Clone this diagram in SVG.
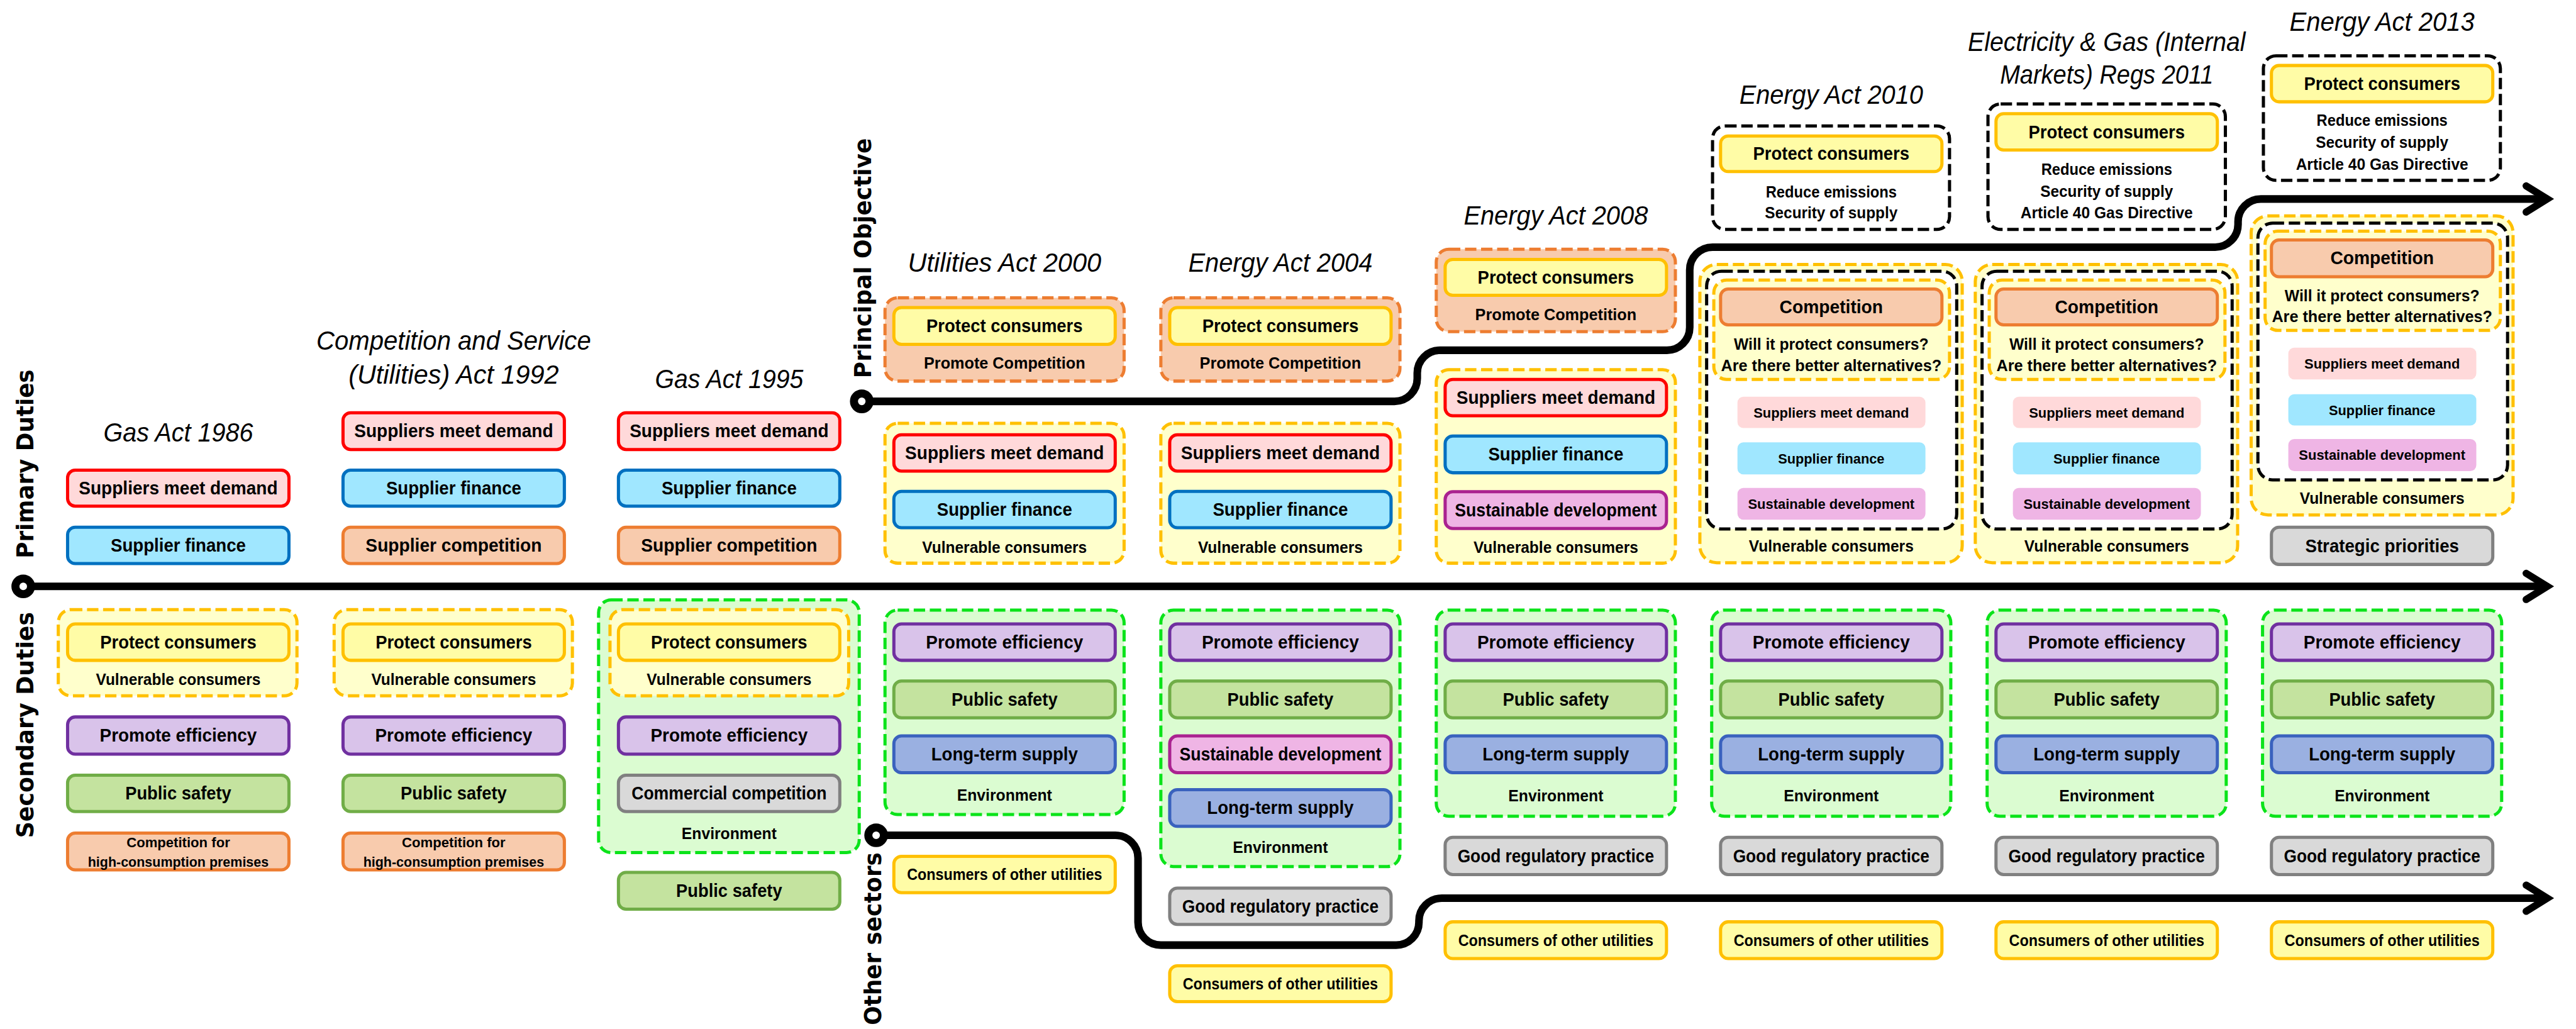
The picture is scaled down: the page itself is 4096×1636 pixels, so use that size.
<svg xmlns="http://www.w3.org/2000/svg" xmlns:xlink="http://www.w3.org/1999/xlink" width="4096" height="1636" viewBox="0 0 4096 1636">
<style>
.bx{stroke-width:7.5}
.red{fill:#FFD9DA;stroke:#FF0000}
.blu{fill:#A0E7FF;stroke:#0070C0}
.org{fill:#F8CBAD;stroke:#ED7D31}
.yel{fill:#FFFCA6;stroke:#FFC000}
.pur{fill:#D9C3EA;stroke:#7030A0}
.grn{fill:#C4E39F;stroke:#70AD47}
.gry{fill:#D9D9D9;stroke:#808080}
.lts{fill:#9AB0E1;stroke:#3A62BE}
.sus{fill:#EFB5E5;stroke:#AA2290}
.grp{stroke-width:7.5;stroke-dasharray:27 11}
.gy{fill:#FFFFCC;stroke:#FFC000}
.go{fill:#F8CBAD;stroke:#ED7D31}
.gg{fill:#DBFCD1;stroke:#0BE31A}
.gk{fill:#FFFFFF;stroke:#000000}
.lr{fill:#FFD9DA}.lb{fill:#A0E7FF}.ls{fill:#EFB5E5}
text{font-family:"Liberation Sans",Arial,sans-serif;text-anchor:middle;dominant-baseline:central;fill:#000}
.m{font-size:43.5px;font-weight:bold}
.s{font-size:38.5px;font-weight:bold}
.x{font-size:34px;font-weight:bold}
.ti{font-size:62px;font-style:italic}
.lab{font-family:"DejaVu Sans",Verdana,sans-serif;font-size:55px;font-weight:bold}
.ln{fill:none;stroke:#000;stroke-width:18}
.chev{fill:none;stroke:#000;stroke-width:17;stroke-linecap:round;stroke-linejoin:miter}
.dot{fill:#fff;stroke:#000;stroke-width:19}
</style>
<defs>
<path id="chev" class="chev" d="M-50,-31 L0,0 L-50,31"/>
</defs>
<rect width="4096" height="1636" fill="#fff"/>
<g transform="scale(0.671696)">

<g id="labels">
<text class="lab" transform="translate(60,1098) rotate(-90)" textLength="447" lengthAdjust="spacingAndGlyphs">Primary Duties</text>
<text class="lab" transform="translate(60,1716) rotate(-90)" textLength="535" lengthAdjust="spacingAndGlyphs">Secondary Duties</text>
<text class="lab" transform="translate(2043,611) rotate(-90)" textLength="568" lengthAdjust="spacingAndGlyphs">Principal Objective</text>
<text class="lab" transform="translate(2067,2222) rotate(-90)" textLength="409" lengthAdjust="spacingAndGlyphs">Other sectors</text>
</g>

<g id="connectors">
<path class="ln" d="M74,1388 H6025"/>
<path class="ln" d="M2059,950 H3301 A54,54 0 0 0 3355,896 V883 A54,54 0 0 1 3409,829 H3946 A54,54 0 0 0 4000,775 V639 A54,54 0 0 1 4054,585 H5244 A54,54 0 0 0 5298,531 V525 A54,54 0 0 1 5352,471 H6025"/>
<path class="ln" d="M2093,1977 H2640 A54,54 0 0 1 2694,2031 V2183 A54,54 0 0 0 2748,2237 H3305 A54,54 0 0 0 3359,2183 V2180 A54,54 0 0 1 3413,2126 H6025"/>
<circle class="dot" cx="55" cy="1388" r="18.5"/>
<circle class="dot" cx="2040" cy="950" r="18.5"/>
<circle class="dot" cx="2074" cy="1977" r="18.5"/>
<use xlink:href="#chev" x="6030" y="1388"/>
<use xlink:href="#chev" x="6030" y="471"/>
<use xlink:href="#chev" x="6030" y="2126"/>
</g>

<!-- Column 1: Gas Act 1986 -->
<g id="col1">
<text id="t1" class="ti" x="422" y="1024" textLength="354" lengthAdjust="spacingAndGlyphs">Gas Act 1986</text>
<g id="c1-smd"><rect class="bx red" x="160" y="1113" width="524" height="85" rx="18"/><text class="m" x="422" y="1156" textLength="471" lengthAdjust="spacingAndGlyphs">Suppliers meet demand</text></g>
<g id="c1-sf"><rect class="bx blu" x="160" y="1248" width="524" height="86" rx="18"/><text class="m" x="422" y="1291" textLength="320" lengthAdjust="spacingAndGlyphs">Supplier finance</text></g>
<g id="c1-pcg"><rect class="grp gy" x="138" y="1443" width="565" height="204" rx="30"/>
<g id="c1-pc"><rect class="bx yel" x="160" y="1477" width="524" height="86" rx="18"/><text class="m" x="422" y="1520" textLength="370" lengthAdjust="spacingAndGlyphs">Protect consumers</text></g>
<text class="s" x="422" y="1608" textLength="390" lengthAdjust="spacingAndGlyphs">Vulnerable consumers</text></g>
<g id="c1-pe"><rect class="bx pur" x="160" y="1697" width="524" height="88" rx="18"/><text class="m" x="422" y="1741" textLength="372" lengthAdjust="spacingAndGlyphs">Promote efficiency</text></g>
<g id="c1-ps"><rect class="bx grn" x="160" y="1835" width="524" height="86" rx="18"/><text class="m" x="422" y="1878" textLength="251" lengthAdjust="spacingAndGlyphs">Public safety</text></g>
<g id="c1-chc"><rect class="bx org" x="160" y="1972" width="524" height="87" rx="18"/><text class="x" x="422" y="1994" textLength="245" lengthAdjust="spacingAndGlyphs">Competition for</text><text class="x" x="422" y="2039" textLength="428" lengthAdjust="spacingAndGlyphs">high-consumption premises</text></g>
</g>

<!-- Column 2: Competition and Service (Utilities) Act 1992 -->
<g id="col2">
<text id="t2a" class="ti" x="1074" y="806" textLength="650" lengthAdjust="spacingAndGlyphs">Competition and Service</text>
<text id="t2b" class="ti" x="1074" y="886" textLength="498" lengthAdjust="spacingAndGlyphs">(Utilities) Act 1992</text>
<g id="c2-smd"><rect class="bx red" x="812" y="977" width="524" height="87" rx="18"/><text class="m" x="1074" y="1020" textLength="471" lengthAdjust="spacingAndGlyphs">Suppliers meet demand</text></g>
<g id="c2-sf"><rect class="bx blu" x="812" y="1113" width="524" height="85" rx="18"/><text class="m" x="1074" y="1156" textLength="320" lengthAdjust="spacingAndGlyphs">Supplier finance</text></g>
<g id="c2-sc"><rect class="bx org" x="812" y="1248" width="524" height="86" rx="18"/><text class="m" x="1074" y="1291" textLength="417" lengthAdjust="spacingAndGlyphs">Supplier competition</text></g>
<g id="c2-pcg"><rect class="grp gy" x="791" y="1443" width="564" height="204" rx="30"/>
<g id="c2-pc"><rect class="bx yel" x="812" y="1477" width="524" height="86" rx="18"/><text class="m" x="1074" y="1520" textLength="370" lengthAdjust="spacingAndGlyphs">Protect consumers</text></g>
<text class="s" x="1074" y="1608" textLength="390" lengthAdjust="spacingAndGlyphs">Vulnerable consumers</text></g>
<g id="c2-pe"><rect class="bx pur" x="812" y="1697" width="524" height="88" rx="18"/><text class="m" x="1074" y="1741" textLength="372" lengthAdjust="spacingAndGlyphs">Promote efficiency</text></g>
<g id="c2-ps"><rect class="bx grn" x="812" y="1835" width="524" height="86" rx="18"/><text class="m" x="1074" y="1878" textLength="251" lengthAdjust="spacingAndGlyphs">Public safety</text></g>
<g id="c2-chc"><rect class="bx org" x="812" y="1972" width="524" height="87" rx="18"/><text class="x" x="1074" y="1994" textLength="245" lengthAdjust="spacingAndGlyphs">Competition for</text><text class="x" x="1074" y="2039" textLength="428" lengthAdjust="spacingAndGlyphs">high-consumption premises</text></g>
</g>

<!-- Column 3: Gas Act 1995 -->
<g id="col3">
<text id="t3" class="ti" x="1726" y="897" textLength="351" lengthAdjust="spacingAndGlyphs">Gas Act 1995</text>
<g id="c3-smd"><rect class="bx red" x="1464" y="977" width="524" height="87" rx="18"/><text class="m" x="1726" y="1020" textLength="471" lengthAdjust="spacingAndGlyphs">Suppliers meet demand</text></g>
<g id="c3-sf"><rect class="bx blu" x="1464" y="1113" width="524" height="85" rx="18"/><text class="m" x="1726" y="1156" textLength="320" lengthAdjust="spacingAndGlyphs">Supplier finance</text></g>
<g id="c3-sc"><rect class="bx org" x="1464" y="1248" width="524" height="86" rx="18"/><text class="m" x="1726" y="1291" textLength="417" lengthAdjust="spacingAndGlyphs">Supplier competition</text></g>
<g id="c3-env"><rect class="grp gg" x="1417" y="1420" width="617" height="598" rx="30"/>
<g id="c3-pcg"><rect class="grp gy" x="1444" y="1443" width="565" height="204" rx="30"/>
<g id="c3-pc"><rect class="bx yel" x="1464" y="1477" width="524" height="86" rx="18"/><text class="m" x="1726" y="1520" textLength="370" lengthAdjust="spacingAndGlyphs">Protect consumers</text></g>
<text class="s" x="1726" y="1608" textLength="390" lengthAdjust="spacingAndGlyphs">Vulnerable consumers</text></g>
<g id="c3-pe"><rect class="bx pur" x="1464" y="1697" width="524" height="88" rx="18"/><text class="m" x="1726" y="1741" textLength="372" lengthAdjust="spacingAndGlyphs">Promote efficiency</text></g>
<g id="c3-cc"><rect class="bx gry" x="1464" y="1835" width="524" height="86" rx="18"/><text class="m" x="1726" y="1878" textLength="462" lengthAdjust="spacingAndGlyphs">Commercial competition</text></g>
<text class="s" x="1726" y="1973" textLength="225" lengthAdjust="spacingAndGlyphs">Environment</text></g>
<g id="c3-ps"><rect class="bx grn" x="1464" y="2065" width="524" height="87" rx="18"/><text class="m" x="1726" y="2108" textLength="251" lengthAdjust="spacingAndGlyphs">Public safety</text></g>
</g>

<!-- Column 4: Utilities Act 2000 -->
<g id="col4">
<text id="t4" class="ti" x="2378" y="621" textLength="458" lengthAdjust="spacingAndGlyphs">Utilities Act 2000</text>
<g id="c4-po"><rect class="grp go" x="2095" y="705" width="566" height="197" rx="30"/>
<g id="c4-pc"><rect class="bx yel" x="2116" y="728" width="524" height="87" rx="18"/><text class="m" x="2378" y="771" textLength="370" lengthAdjust="spacingAndGlyphs">Protect consumers</text></g>
<text class="s" x="2378" y="859" textLength="382" lengthAdjust="spacingAndGlyphs">Promote Competition</text></g>
<g id="c4-pd"><rect class="grp gy" x="2095" y="1002" width="566" height="331" rx="30"/>
<g id="c4-smd"><rect class="bx red" x="2116" y="1029" width="524" height="86" rx="18"/><text class="m" x="2378" y="1072" textLength="471" lengthAdjust="spacingAndGlyphs">Suppliers meet demand</text></g>
<g id="c4-sf"><rect class="bx blu" x="2116" y="1163" width="524" height="86" rx="18"/><text class="m" x="2378" y="1206" textLength="320" lengthAdjust="spacingAndGlyphs">Supplier finance</text></g>
<text class="s" x="2378" y="1295" textLength="390" lengthAdjust="spacingAndGlyphs">Vulnerable consumers</text></g>
<g id="c4-env"><rect class="grp gg" x="2095" y="1444" width="566" height="484" rx="30"/>
<g id="c4-pe"><rect class="bx pur" x="2116" y="1477" width="524" height="86" rx="18"/><text class="m" x="2378" y="1520" textLength="372" lengthAdjust="spacingAndGlyphs">Promote efficiency</text></g>
<g id="c4-ps"><rect class="bx grn" x="2116" y="1612" width="524" height="87" rx="18"/><text class="m" x="2378" y="1655" textLength="251" lengthAdjust="spacingAndGlyphs">Public safety</text></g>
<g id="c4-lt"><rect class="bx lts" x="2116" y="1742" width="524" height="87" rx="18"/><text class="m" x="2378" y="1785" textLength="347" lengthAdjust="spacingAndGlyphs">Long-term supply</text></g>
<text class="s" x="2378" y="1882" textLength="225" lengthAdjust="spacingAndGlyphs">Environment</text></g>
<g id="c4-cou"><rect class="bx yel" x="2116" y="2027" width="524" height="86" rx="18"/><text class="s" x="2378" y="2070" textLength="462" lengthAdjust="spacingAndGlyphs">Consumers of other utilities</text></g>
</g>

<!-- Column 5: Energy Act 2004 -->
<g id="col5">
<text id="t5" class="ti" x="3031" y="621" textLength="436" lengthAdjust="spacingAndGlyphs">Energy Act 2004</text>
<g id="c5-po"><rect class="grp go" x="2748" y="705" width="566" height="197" rx="30"/>
<g id="c5-pc"><rect class="bx yel" x="2769" y="728" width="524" height="87" rx="18"/><text class="m" x="3031" y="771" textLength="370" lengthAdjust="spacingAndGlyphs">Protect consumers</text></g>
<text class="s" x="3031" y="859" textLength="382" lengthAdjust="spacingAndGlyphs">Promote Competition</text></g>
<g id="c5-pd"><rect class="grp gy" x="2748" y="1002" width="566" height="331" rx="30"/>
<g id="c5-smd"><rect class="bx red" x="2769" y="1029" width="524" height="86" rx="18"/><text class="m" x="3031" y="1072" textLength="471" lengthAdjust="spacingAndGlyphs">Suppliers meet demand</text></g>
<g id="c5-sf"><rect class="bx blu" x="2769" y="1163" width="524" height="86" rx="18"/><text class="m" x="3031" y="1206" textLength="320" lengthAdjust="spacingAndGlyphs">Supplier finance</text></g>
<text class="s" x="3031" y="1295" textLength="390" lengthAdjust="spacingAndGlyphs">Vulnerable consumers</text></g>
<g id="c5-env"><rect class="grp gg" x="2748" y="1444" width="566" height="607" rx="30"/>
<g id="c5-pe"><rect class="bx pur" x="2769" y="1477" width="524" height="86" rx="18"/><text class="m" x="3031" y="1520" textLength="372" lengthAdjust="spacingAndGlyphs">Promote efficiency</text></g>
<g id="c5-ps"><rect class="bx grn" x="2769" y="1612" width="524" height="87" rx="18"/><text class="m" x="3031" y="1655" textLength="251" lengthAdjust="spacingAndGlyphs">Public safety</text></g>
<g id="c5-sd"><rect class="bx sus" x="2769" y="1742" width="524" height="87" rx="18"/><text class="m" x="3031" y="1785" textLength="478" lengthAdjust="spacingAndGlyphs">Sustainable development</text></g>
<g id="c5-lt"><rect class="bx lts" x="2769" y="1869" width="524" height="87" rx="18"/><text class="m" x="3031" y="1912" textLength="347" lengthAdjust="spacingAndGlyphs">Long-term supply</text></g>
<text class="s" x="3031" y="2005" textLength="225" lengthAdjust="spacingAndGlyphs">Environment</text></g>
<g id="c5-grp"><rect class="bx gry" x="2769" y="2102" width="524" height="86" rx="18"/><text class="m" x="3031" y="2145" textLength="465" lengthAdjust="spacingAndGlyphs">Good regulatory practice</text></g>
<g id="c5-cou"><rect class="bx yel" x="2769" y="2286" width="524" height="85" rx="18"/><text class="s" x="3031" y="2328" textLength="462" lengthAdjust="spacingAndGlyphs">Consumers of other utilities</text></g>
</g>

<!-- Column 6: Energy Act 2008 -->
<g id="col6">
<text id="t6" class="ti" x="3683" y="510" textLength="436" lengthAdjust="spacingAndGlyphs">Energy Act 2008</text>
<g id="c6-po"><rect class="grp go" x="3400" y="590" width="566" height="195" rx="30"/>
<g id="c6-pc"><rect class="bx yel" x="3421" y="614" width="524" height="85" rx="18"/><text class="m" x="3683" y="656" textLength="370" lengthAdjust="spacingAndGlyphs">Protect consumers</text></g>
<text class="s" x="3683" y="744" textLength="382" lengthAdjust="spacingAndGlyphs">Promote Competition</text></g>
<g id="c6-pd"><rect class="grp gy" x="3400" y="875" width="566" height="458" rx="30"/>
<g id="c6-smd"><rect class="bx red" x="3421" y="898" width="524" height="86" rx="18"/><text class="m" x="3683" y="941" textLength="471" lengthAdjust="spacingAndGlyphs">Suppliers meet demand</text></g>
<g id="c6-sf"><rect class="bx blu" x="3421" y="1032" width="524" height="87" rx="18"/><text class="m" x="3683" y="1075" textLength="320" lengthAdjust="spacingAndGlyphs">Supplier finance</text></g>
<g id="c6-sd"><rect class="bx sus" x="3421" y="1164" width="524" height="87" rx="18"/><text class="m" x="3683" y="1207" textLength="478" lengthAdjust="spacingAndGlyphs">Sustainable development</text></g>
<text class="s" x="3683" y="1295" textLength="390" lengthAdjust="spacingAndGlyphs">Vulnerable consumers</text></g>
<g id="c6-env"><rect class="grp gg" x="3400" y="1444" width="566" height="488" rx="30"/>
<g id="c6-pe"><rect class="bx pur" x="3421" y="1477" width="524" height="86" rx="18"/><text class="m" x="3683" y="1520" textLength="372" lengthAdjust="spacingAndGlyphs">Promote efficiency</text></g>
<g id="c6-ps"><rect class="bx grn" x="3421" y="1612" width="524" height="87" rx="18"/><text class="m" x="3683" y="1655" textLength="251" lengthAdjust="spacingAndGlyphs">Public safety</text></g>
<g id="c6-lt"><rect class="bx lts" x="3421" y="1742" width="524" height="87" rx="18"/><text class="m" x="3683" y="1785" textLength="347" lengthAdjust="spacingAndGlyphs">Long-term supply</text></g>
<text class="s" x="3683" y="1883" textLength="225" lengthAdjust="spacingAndGlyphs">Environment</text></g>
<g id="c6-grp"><rect class="bx gry" x="3421" y="1982" width="524" height="88" rx="18"/><text class="m" x="3683" y="2026" textLength="465" lengthAdjust="spacingAndGlyphs">Good regulatory practice</text></g>
<g id="c6-cou"><rect class="bx yel" x="3421" y="2182" width="524" height="87" rx="18"/><text class="s" x="3683" y="2225" textLength="462" lengthAdjust="spacingAndGlyphs">Consumers of other utilities</text></g>
</g>

<!-- Column 7: Energy Act 2010 -->
<g id="col7">
<text id="t7" class="ti" x="4335" y="224" textLength="435" lengthAdjust="spacingAndGlyphs">Energy Act 2010</text>
<g id="c7-po"><rect class="grp gk" x="4054" y="298" width="561" height="245" rx="30"/>
<g id="c7-pc"><rect class="bx yel" x="4073" y="322" width="524" height="84" rx="18"/><text class="m" x="4335" y="364" textLength="370" lengthAdjust="spacingAndGlyphs">Protect consumers</text></g>
<text class="s" x="4335" y="454" textLength="310" lengthAdjust="spacingAndGlyphs">Reduce emissions</text>
<text class="s" x="4335" y="503" textLength="314" lengthAdjust="spacingAndGlyphs">Security of supply</text></g>
<g id="c7-pd"><rect class="grp gy" x="4024" y="626" width="621" height="706" rx="40"/>
<rect class="grp gk" x="4040" y="642" width="592" height="610" rx="35"/>
<g id="c7-cq"><rect class="grp gy" x="4057" y="663" width="558" height="235" rx="30"/>
<g id="c7-comp"><rect class="bx org" x="4073" y="684" width="524" height="85" rx="18"/><text class="m" x="4335" y="726" textLength="245" lengthAdjust="spacingAndGlyphs">Competition</text></g>
<text class="s" x="4335" y="814" textLength="461" lengthAdjust="spacingAndGlyphs">Will it protect consumers?</text>
<text class="s" x="4335" y="865" textLength="522" lengthAdjust="spacingAndGlyphs">Are there better alternatives?</text></g>
<g id="c7-smd"><rect class="lr" x="4113" y="939" width="445" height="74" rx="14"/><text class="x" x="4335" y="976" textLength="368" lengthAdjust="spacingAndGlyphs">Suppliers meet demand</text></g>
<g id="c7-sf"><rect class="lb" x="4113" y="1047" width="445" height="76" rx="14"/><text class="x" x="4335" y="1085" textLength="252" lengthAdjust="spacingAndGlyphs">Supplier finance</text></g>
<g id="c7-sd"><rect class="ls" x="4113" y="1155" width="445" height="75" rx="14"/><text class="x" x="4335" y="1192" textLength="394" lengthAdjust="spacingAndGlyphs">Sustainable development</text></g>
<text class="s" x="4335" y="1292" textLength="390" lengthAdjust="spacingAndGlyphs">Vulnerable consumers</text></g>
<g id="c7-env"><rect class="grp gg" x="4052" y="1444" width="566" height="488" rx="30"/>
<g id="c7-pe"><rect class="bx pur" x="4073" y="1477" width="524" height="86" rx="18"/><text class="m" x="4335" y="1520" textLength="372" lengthAdjust="spacingAndGlyphs">Promote efficiency</text></g>
<g id="c7-ps"><rect class="bx grn" x="4073" y="1612" width="524" height="87" rx="18"/><text class="m" x="4335" y="1655" textLength="251" lengthAdjust="spacingAndGlyphs">Public safety</text></g>
<g id="c7-lt"><rect class="bx lts" x="4073" y="1742" width="524" height="87" rx="18"/><text class="m" x="4335" y="1785" textLength="347" lengthAdjust="spacingAndGlyphs">Long-term supply</text></g>
<text class="s" x="4335" y="1883" textLength="225" lengthAdjust="spacingAndGlyphs">Environment</text></g>
<g id="c7-grp"><rect class="bx gry" x="4073" y="1982" width="524" height="88" rx="18"/><text class="m" x="4335" y="2026" textLength="465" lengthAdjust="spacingAndGlyphs">Good regulatory practice</text></g>
<g id="c7-cou"><rect class="bx yel" x="4073" y="2182" width="524" height="87" rx="18"/><text class="s" x="4335" y="2225" textLength="462" lengthAdjust="spacingAndGlyphs">Consumers of other utilities</text></g>
</g>

<!-- Column 8: Electricity & Gas (Internal Markets) Regs 2011 -->
<g id="col8">
<text id="t8a" class="ti" x="4987" y="99" textLength="657" lengthAdjust="spacingAndGlyphs">Electricity &amp; Gas (Internal</text>
<text id="t8b" class="ti" x="4987" y="176" textLength="505" lengthAdjust="spacingAndGlyphs">Markets) Regs 2011</text>
<g id="c8-po"><rect class="grp gk" x="4706" y="246" width="562" height="297" rx="30"/>
<g id="c8-pc"><rect class="bx yel" x="4725" y="269" width="524" height="86" rx="18"/><text class="m" x="4987" y="312" textLength="370" lengthAdjust="spacingAndGlyphs">Protect consumers</text></g>
<text class="s" x="4987" y="400" textLength="310" lengthAdjust="spacingAndGlyphs">Reduce emissions</text>
<text class="s" x="4987" y="452" textLength="314" lengthAdjust="spacingAndGlyphs">Security of supply</text>
<text class="s" x="4987" y="503" textLength="408" lengthAdjust="spacingAndGlyphs">Article 40 Gas Directive</text></g>
<g id="c8-pd"><rect class="grp gy" x="4676" y="626" width="621" height="706" rx="40"/>
<rect class="grp gk" x="4692" y="642" width="592" height="610" rx="35"/>
<g id="c8-cq"><rect class="grp gy" x="4709" y="663" width="558" height="235" rx="30"/>
<g id="c8-comp"><rect class="bx org" x="4725" y="684" width="524" height="85" rx="18"/><text class="m" x="4987" y="726" textLength="245" lengthAdjust="spacingAndGlyphs">Competition</text></g>
<text class="s" x="4987" y="814" textLength="461" lengthAdjust="spacingAndGlyphs">Will it protect consumers?</text>
<text class="s" x="4987" y="865" textLength="522" lengthAdjust="spacingAndGlyphs">Are there better alternatives?</text></g>
<g id="c8-smd"><rect class="lr" x="4765" y="939" width="445" height="74" rx="14"/><text class="x" x="4987" y="976" textLength="368" lengthAdjust="spacingAndGlyphs">Suppliers meet demand</text></g>
<g id="c8-sf"><rect class="lb" x="4765" y="1047" width="445" height="76" rx="14"/><text class="x" x="4987" y="1085" textLength="252" lengthAdjust="spacingAndGlyphs">Supplier finance</text></g>
<g id="c8-sd"><rect class="ls" x="4765" y="1155" width="445" height="75" rx="14"/><text class="x" x="4987" y="1192" textLength="394" lengthAdjust="spacingAndGlyphs">Sustainable development</text></g>
<text class="s" x="4987" y="1292" textLength="390" lengthAdjust="spacingAndGlyphs">Vulnerable consumers</text></g>
<g id="c8-env"><rect class="grp gg" x="4704" y="1444" width="566" height="488" rx="30"/>
<g id="c8-pe"><rect class="bx pur" x="4725" y="1477" width="524" height="86" rx="18"/><text class="m" x="4987" y="1520" textLength="372" lengthAdjust="spacingAndGlyphs">Promote efficiency</text></g>
<g id="c8-ps"><rect class="bx grn" x="4725" y="1612" width="524" height="87" rx="18"/><text class="m" x="4987" y="1655" textLength="251" lengthAdjust="spacingAndGlyphs">Public safety</text></g>
<g id="c8-lt"><rect class="bx lts" x="4725" y="1742" width="524" height="87" rx="18"/><text class="m" x="4987" y="1785" textLength="347" lengthAdjust="spacingAndGlyphs">Long-term supply</text></g>
<text class="s" x="4987" y="1883" textLength="225" lengthAdjust="spacingAndGlyphs">Environment</text></g>
<g id="c8-grp"><rect class="bx gry" x="4725" y="1982" width="524" height="88" rx="18"/><text class="m" x="4987" y="2026" textLength="465" lengthAdjust="spacingAndGlyphs">Good regulatory practice</text></g>
<g id="c8-cou"><rect class="bx yel" x="4725" y="2182" width="524" height="87" rx="18"/><text class="s" x="4987" y="2225" textLength="462" lengthAdjust="spacingAndGlyphs">Consumers of other utilities</text></g>
</g>

<!-- Column 9: Energy Act 2013 -->
<g id="col9">
<text id="t9" class="ti" x="5639" y="52" textLength="438" lengthAdjust="spacingAndGlyphs">Energy Act 2013</text>
<g id="c9-po"><rect class="grp gk" x="5358" y="132" width="561" height="295" rx="30"/>
<g id="c9-pc"><rect class="bx yel" x="5377" y="155" width="524" height="86" rx="18"/><text class="m" x="5639" y="198" textLength="370" lengthAdjust="spacingAndGlyphs">Protect consumers</text></g>
<text class="s" x="5639" y="284" textLength="310" lengthAdjust="spacingAndGlyphs">Reduce emissions</text>
<text class="s" x="5639" y="336" textLength="314" lengthAdjust="spacingAndGlyphs">Security of supply</text>
<text class="s" x="5639" y="388" textLength="408" lengthAdjust="spacingAndGlyphs">Article 40 Gas Directive</text></g>
<g id="c9-pd"><rect class="grp gy" x="5329" y="511" width="620" height="708" rx="40"/>
<rect class="grp gk" x="5345" y="528" width="591" height="608" rx="35"/>
<g id="c9-cq"><rect class="grp gy" x="5362" y="547" width="557" height="235" rx="30"/>
<g id="c9-comp"><rect class="bx org" x="5377" y="568" width="524" height="87" rx="18"/><text class="m" x="5639" y="611" textLength="245" lengthAdjust="spacingAndGlyphs">Competition</text></g>
<text class="s" x="5639" y="699" textLength="461" lengthAdjust="spacingAndGlyphs">Will it protect consumers?</text>
<text class="s" x="5639" y="749" textLength="522" lengthAdjust="spacingAndGlyphs">Are there better alternatives?</text></g>
<g id="c9-smd"><rect class="lr" x="5417" y="823" width="445" height="75" rx="14"/><text class="x" x="5639" y="860" textLength="368" lengthAdjust="spacingAndGlyphs">Suppliers meet demand</text></g>
<g id="c9-sf"><rect class="lb" x="5417" y="933" width="445" height="74" rx="14"/><text class="x" x="5639" y="970" textLength="252" lengthAdjust="spacingAndGlyphs">Supplier finance</text></g>
<g id="c9-sd"><rect class="ls" x="5417" y="1039" width="445" height="76" rx="14"/><text class="x" x="5639" y="1077" textLength="394" lengthAdjust="spacingAndGlyphs">Sustainable development</text></g>
<text class="s" x="5639" y="1179" textLength="390" lengthAdjust="spacingAndGlyphs">Vulnerable consumers</text></g>
<g id="c9-sp"><rect class="bx gry" x="5377" y="1248" width="524" height="88" rx="18"/><text class="m" x="5639" y="1292" textLength="364" lengthAdjust="spacingAndGlyphs">Strategic priorities</text></g>
<g id="c9-env"><rect class="grp gg" x="5356" y="1444" width="566" height="488" rx="30"/>
<g id="c9-pe"><rect class="bx pur" x="5377" y="1477" width="524" height="86" rx="18"/><text class="m" x="5639" y="1520" textLength="372" lengthAdjust="spacingAndGlyphs">Promote efficiency</text></g>
<g id="c9-ps"><rect class="bx grn" x="5377" y="1612" width="524" height="87" rx="18"/><text class="m" x="5639" y="1655" textLength="251" lengthAdjust="spacingAndGlyphs">Public safety</text></g>
<g id="c9-lt"><rect class="bx lts" x="5377" y="1742" width="524" height="87" rx="18"/><text class="m" x="5639" y="1785" textLength="347" lengthAdjust="spacingAndGlyphs">Long-term supply</text></g>
<text class="s" x="5639" y="1883" textLength="225" lengthAdjust="spacingAndGlyphs">Environment</text></g>
<g id="c9-grp"><rect class="bx gry" x="5377" y="1982" width="524" height="88" rx="18"/><text class="m" x="5639" y="2026" textLength="465" lengthAdjust="spacingAndGlyphs">Good regulatory practice</text></g>
<g id="c9-cou"><rect class="bx yel" x="5377" y="2182" width="524" height="87" rx="18"/><text class="s" x="5639" y="2225" textLength="462" lengthAdjust="spacingAndGlyphs">Consumers of other utilities</text></g>
</g>

</g>
</svg>
